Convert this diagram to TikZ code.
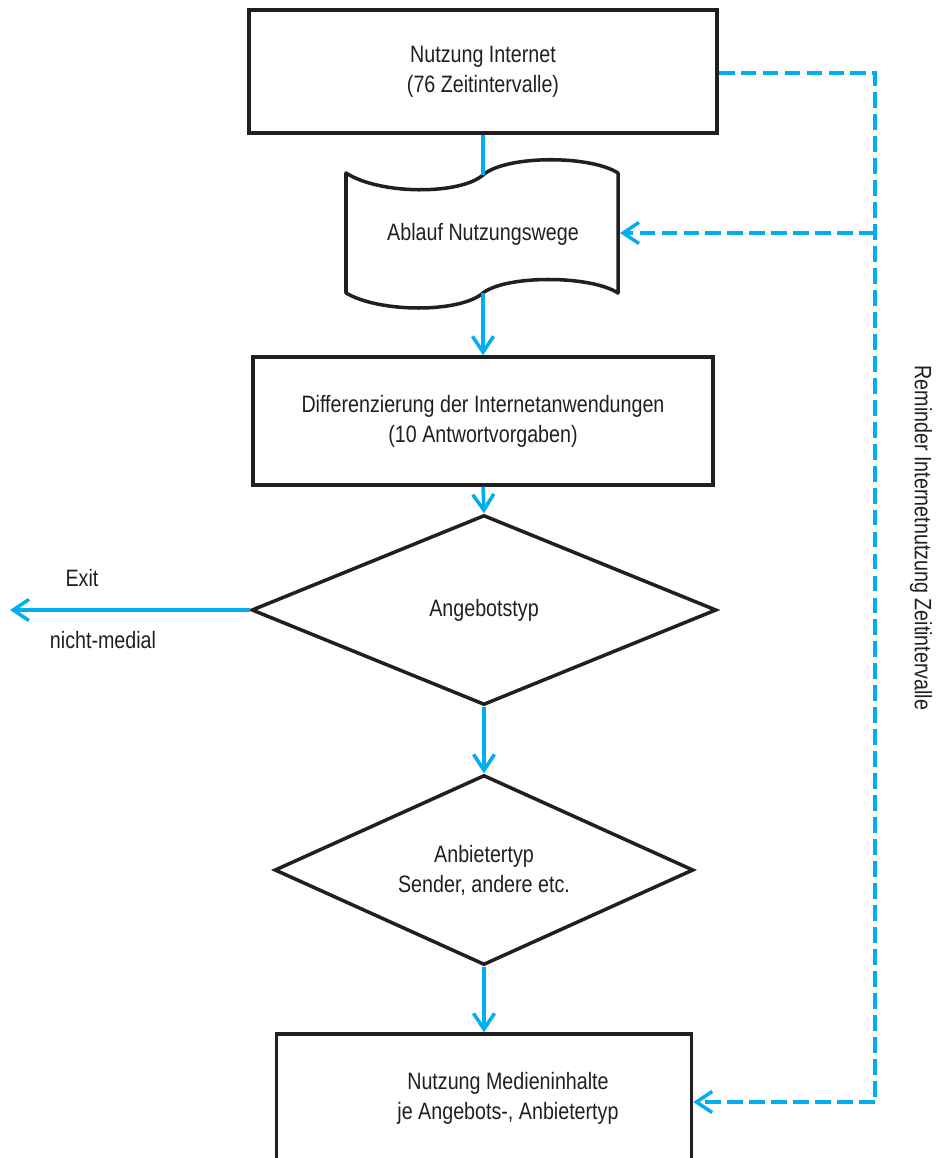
\documentclass[tikz,border=0pt]{standalone}
\usepackage{fontspec}
\setmainfont{Liberation Sans}[FakeStretch=0.83]
\usetikzlibrary{shapes.geometric,arrows.meta}
\definecolor{flowblue}{HTML}{00AEEF}
\definecolor{flowblack}{HTML}{231F20}
\tikzset{
  box/.style={draw=flowblack,line width=2pt,rectangle,inner sep=0pt,align=center},
  decision/.style={draw=flowblack,line width=2pt,diamond,aspect=2.4,inner sep=0pt,align=center},
  flow/.style={draw=flowblue,line width=2pt,-{Straight Barb[length=9pt,width=12pt]}},
  reminder/.style={flow,dash pattern=on 9pt off 3.5pt}
}
\begin{document}
\begin{tikzpicture}[x=0.02cm,y=-0.02cm,line cap=butt,line join=miter,
  every node/.style={font=\fontsize{13.5}{17}\selectfont,text=flowblack}]
  \useasboundingbox (0,0) rectangle (938,1158);
  \node[box,minimum width=9.36cm,minimum height=2.46cm] (inet) at (483,71.5) {Nutzung Internet\\(76 Zeitintervalle)};
  % tape shape
  \draw[flowblack,line width=2pt,line join=round] (346,173) .. controls (380,195) and (460,195) .. (483,175)
    .. controls (506,155) and (590,155) .. (618,173) -- (618,293)
    .. controls (590,275) and (506,275) .. (483,293)
    .. controls (460,313) and (380,313) .. (346,293) -- cycle;
  \node (wege) at (483,234) {Ablauf Nutzungswege};
  \coordinate (wegetop) at (483,175);
  \coordinate (wegebot) at (483,293);
  \coordinate (wegeright) at (620,233);
  \node[box,minimum width=9.2cm,minimum height=2.56cm] (diff) at (483,421) {Differenzierung der Internetanwendungen\\(10 Antwortvorgaben)};
  \node[decision,minimum width=9.3cm,minimum height=3.8cm] (angebot) at (484,610) {Angebotstyp};
  \node[decision,minimum width=8.38cm,minimum height=3.8cm] (anbieter) at (484,870) {Anbietertyp\\Sender, andere etc.};
  \node[box,minimum width=8.3cm,minimum height=2.6cm] (medien) at (484,1099) {};
  \node[align=center] (medientext) at (508,1098) {Nutzung Medieninhalte\\je Angebots-, Anbietertyp};
  \coordinate (exit) at (10,610);
  \node (exitlabel) at (82,578) {Exit};
  \node (nichtmedial) at (103,640) {nicht-medial};
  \coordinate (rtop) at (875,73);
  \coordinate (rmid) at (875,233);
  \coordinate (rbot) at (875,1102);
  \node[rotate=-90] (remind) at (921,538) {Reminder Internetnutzung Zeitintervalle};
  \draw[flowblue,line width=2pt] (inet.south) -- (wegetop);
  \draw[flow] (wegebot) -- (diff.north);
  \draw[flow] (diff.south) -- (angebot.north);
  \draw[flow] (angebot.south) -- (anbieter.north);
  \draw[flow] (anbieter.south) -- (medien.north);
  \draw[flow] (angebot.west) -- (exit);
  \draw[reminder,-] (inet.east |- rtop) -- (rtop) -- (rbot);
  \draw[reminder] (rmid) -- (wegeright);
  \draw[reminder] (rbot) -- (medien.east |- rbot);
\end{tikzpicture}
\end{document}
